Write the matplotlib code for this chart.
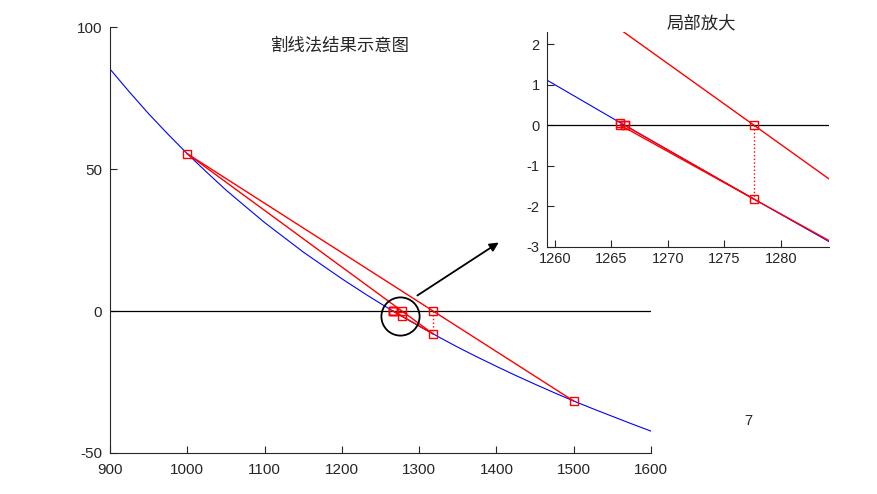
import matplotlib.pyplot as plt

plt.rcParams['font.family'] = ['Liberation Sans', 'Noto Sans CJK SC']
plt.rcParams['axes.unicode_minus'] = False

# blue curve f(x)
curve_x = [900, 925, 950, 975, 1000, 1025, 1050, 1075, 1100, 1125, 1150, 1175, 1200,
           1230, 1250, 1259, 1265.79, 1271, 1277.6, 1284, 1290, 1300, 1317.9, 1334,
           1350, 1375, 1400, 1425, 1450, 1475, 1500, 1525, 1550, 1575, 1600]
curve_y = [85.2, 77.15, 69.45, 62.25, 55.36, 48.9, 42.6, 36.85, 31.15, 25.95, 20.77,
           16.05, 11.35, 6.03, 2.64, 1.16, 0.06, -0.77, -1.82, -2.83, -3.77, -5.32,
           -8.03, -10.42, -12.75, -16.19, -19.5, -22.71, -25.8, -28.8, -31.7, -34.44,
           -37.1, -39.74, -42.3]

# secant iterates (x_k, f(x_k))
iter_x = [1000, 1500, 1317.9, 1277.6, 1265.79, 1266.17]
iter_y = [55.36, -31.7, -8.03, -1.82, 0.06, 0.0]

# secant lines
seg_x0 = [1000, 1000, 1317.9, 1277.6]
seg_y0 = [55.36, 55.36, -8.03, -1.82]
seg_x1 = [1500, 1317.9, 1265.79, 1266.17]
seg_y1 = [-31.7, -8.03, 0, 0]

main_xticks = [900, 1000, 1100, 1200, 1300, 1400, 1500, 1600]
main_yticks = [-50, 0, 50, 100]
zoom_xticks = [1260, 1265, 1270, 1275, 1280]
zoom_yticks = [-3, -2, -1, 0, 1, 2]

TXT = '#262626'


def draw(ax, xlim):
    ax.plot(xlim, [0, 0], color='k', lw=0.9)
    ax.plot(curve_x, curve_y, color='b', lw=0.8)
    for x0, y0, x1, y1 in zip(seg_x0, seg_y0, seg_x1, seg_y1):
        ax.plot([x0, x1], [y0, y1], color='r', lw=1.0)
    # new roots: dotted drop from the axis to the curve
    for x, y in zip(iter_x[2:], iter_y[2:]):
        ax.plot([x, x], [0, y], color='r', ls=':', lw=1.0)
        ax.plot(x, 0, 's', ms=6, mfc='none', mec='r', mew=1.0)
    ax.plot(iter_x, iter_y, 's', ms=6, mfc='none', mec='r', mew=1.0, ls='none')
    ax.set_xlim(xlim)
    for s in ['top', 'right']:
        ax.spines[s].set_visible(False)
    for s in ['left', 'bottom']:
        ax.spines[s].set_color(TXT)
    ax.tick_params(direction='in', length=5, colors=TXT)


fig = plt.figure(figsize=(8.78, 4.94), dpi=100)

ax = fig.add_axes([0.1253, 0.0830, 0.6162, 0.8623])
draw(ax, [900, 1600])
ax.set_ylim(-50, 100)
ax.set_xticks(main_xticks)
ax.set_yticks(main_yticks)
ax.tick_params(axis='x', labelsize=11, pad=7)
ax.tick_params(axis='y', labelsize=11, pad=5.5)
ax.text(0.425, 0.958, '割线法结果示意图', transform=ax.transAxes, ha='center', va='center',
        fontsize=12.5, color=TXT)
# circle round the root region
ax.plot(1274.6, -1.6, 'o', ms=27.5, mfc='none', mec='k', mew=1.3)

axz = fig.add_axes([0.6227, 0.5006, 0.3215, 0.4352])
draw(axz, [1259.26, 1284.28])
axz.set_ylim(-3, 2.31)
axz.set_xticks(zoom_xticks)
axz.set_yticks(zoom_yticks)
axz.tick_params(axis='x', labelsize=10.5, pad=4)
axz.tick_params(axis='y', labelsize=10.5, pad=5)
axz.text(0.5466, 1.0405, '局部放大', transform=axz.transAxes, ha='center', va='center',
         fontsize=12.5, color=TXT)

fig.add_artist(plt.Annotation('', xy=(0.5706, 0.5121), xytext=(0.4727, 0.3988),
                              xycoords='figure fraction', textcoords='figure fraction',
                              arrowprops=dict(arrowstyle='-|>', color='k', lw=1.3,
                                              mutation_scale=13)))
fig.text(0.852, 0.148, '7', ha='center', va='center', fontsize=10.5, color=TXT)

plt.savefig('out.png', dpi=100)
